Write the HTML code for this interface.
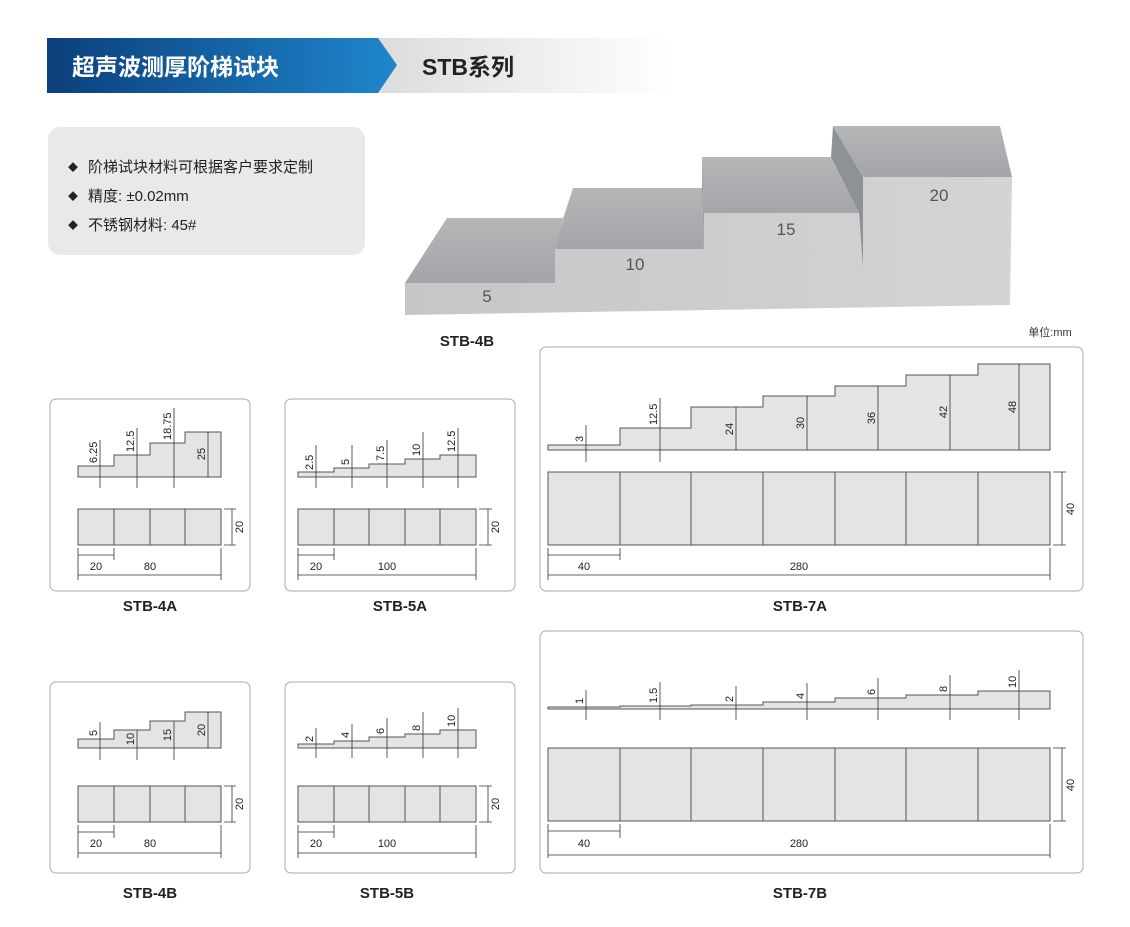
<!DOCTYPE html>
<html><head><meta charset="utf-8"><style>
html,body{margin:0;padding:0;background:#fff}
svg{display:block}
text{font-family:"Liberation Sans","Noto Sans CJK SC",sans-serif}
</style></head><body>
<svg width="1130" height="927" viewBox="0 0 1130 927" xmlns="http://www.w3.org/2000/svg">
<defs>
<linearGradient id="bl" x1="0" x2="1"><stop offset="0" stop-color="#0b3f7c"/><stop offset="1" stop-color="#1f86cc"/></linearGradient>
<linearGradient id="gr" x1="0" x2="1"><stop offset="0" stop-color="#dcdcdc"/><stop offset="1" stop-color="#fff"/></linearGradient>
<linearGradient id="mf" x1="0" x2="1"><stop offset="0" stop-color="#c4c6c8"/><stop offset="1" stop-color="#d2d4d6"/></linearGradient>
<linearGradient id="mt" x1="0" x2="0" y1="0" y2="1"><stop offset="0" stop-color="#b4b6b8"/><stop offset="1" stop-color="#a3a5a8"/></linearGradient>
</defs>
<!-- header -->
<rect x="378" y="38" width="297" height="55" fill="url(#gr)"/>
<polygon points="47,38 378,38 397,65 378,93 47,93" fill="url(#bl)"/>
<text x="72" y="75" font-size="23" font-weight="bold" fill="#fff">超声波测厚阶梯试块</text>
<text x="422" y="75" font-size="23" font-weight="bold" fill="#222">STB系列</text>
<!-- info -->
<rect x="48" y="127" width="317" height="128" rx="12" fill="#e9e9e9"/>
<g font-size="15" fill="#222">
<text x="68" y="171" font-size="10">◆</text><text x="88" y="172">阶梯试块材料可根据客户要求定制</text>
<text x="68" y="200" font-size="10">◆</text><text x="88" y="201">精度: ±0.02mm</text>
<text x="68" y="229" font-size="10">◆</text><text x="88" y="230">不锈钢材料: 45#</text>
</g>
<!-- photo -->
<g stroke="none">
<polygon points="447,218 563,218 555,283 405,283" fill="url(#mt)"/>
<polygon points="563,218 573,188 555,249 555,283" fill="#b9bbbd"/>
<polygon points="573,188 702,188 704,249 555,249" fill="url(#mt)"/>
<polygon points="702,157 831,157 859,213 704,213" fill="url(#mt)"/>
<polygon points="702,157 702,188 704,249 704,213" fill="#9a9c9f"/>
<polygon points="831,157 833,126 863,177 863,270 859,213" fill="#8f9295"/>
<polygon points="833,126 1000,126 1012,177 863,177" fill="url(#mt)"/>
<polygon points="405,283 555,283 555,249 704,249 704,213 859,213 863,270 863,177 1012,177 1010,305 405,315" fill="url(#mf)"/>
</g>
<g font-size="17" fill="#555" text-anchor="middle"><text x="487" y="302">5</text><text x="635" y="270">10</text><text x="786" y="235">15</text><text x="939" y="201">20</text></g>
<text x="467" y="346" font-size="15" font-weight="bold" text-anchor="middle" fill="#222">STB-4B</text>
<text x="1050" y="336" font-size="11" text-anchor="middle" fill="#333">单位:mm</text>
<!-- panels -->
<g fill="#fff" stroke="#aaa" stroke-width="1">
<rect x="50" y="399" width="200" height="192" rx="6"/>
<rect x="285" y="399" width="230" height="192" rx="6"/>
<rect x="540" y="347" width="543" height="244" rx="6"/>
<rect x="50" y="682" width="200" height="191" rx="6"/>
<rect x="285" y="682" width="230" height="191" rx="6"/>
<rect x="540" y="631" width="543" height="242" rx="6"/>
</g>
<g font-size="15" font-weight="bold" text-anchor="middle" fill="#222">
<text x="150" y="611">STB-4A</text><text x="400" y="611">STB-5A</text><text x="800" y="611">STB-7A</text>
<text x="150" y="898">STB-4B</text><text x="387" y="898">STB-5B</text><text x="800" y="898">STB-7B</text>
</g>
<g fill="#e4e4e4" stroke="#555" stroke-width="1">
<path d="M78,477V466H114V455H150V443H185V432H221V477Z"/>
<rect x="78" y="509" width="143" height="36"/>
<path d="M298,477V472H334V468H369V464H405V459H440V455H476V477Z"/>
<rect x="298" y="509" width="178" height="36"/>
<path d="M548,450V445H620V428H691V407H763V396H835V386H906V375H978V364H1050V450Z"/>
<rect x="548" y="472" width="502" height="73"/>
<path d="M78,748V739H114V730H150V721H185V712H221V748Z"/>
<rect x="78" y="786" width="143" height="36"/>
<path d="M298,748V744H334V741H369V737H405V734H440V730H476V748Z"/>
<rect x="298" y="786" width="178" height="36"/>
<path d="M548,709V707H620V706H691V705H763V702H835V698H906V695H978V691H1050V709Z"/>
<rect x="548" y="748" width="502" height="73"/>
</g>
<g stroke="#555" stroke-width="1">
<path d="M114,509V545M150,509V545M185,509V545"/>
<path d="M334,509V545M369,509V545M405,509V545M440,509V545"/>
<path d="M620,472V545M691,472V545M763,472V545M835,472V545M906,472V545M978,472V545"/>
<path d="M114,786V822M150,786V822M185,786V822"/>
<path d="M334,786V822M369,786V822M405,786V822M440,786V822"/>
<path d="M620,748V821M691,748V821M763,748V821M835,748V821M906,748V821M978,748V821"/>
</g>
<g stroke="#333" stroke-width="0.8" fill="none">
<path d="M100,440V488M137,428V488M174,408V488M208,432V477M224,509H236M232,509V545M224,545H236M78,548V580M114,548V560M221,548V580M78,555H114M78,575H221"/>
<path d="M316,445V488M352,445V488M387,440V488M423,432V488M458,428V488M479,509H492M488,509V545M479,545H492M298,548V580M334,548V560M476,548V580M298,555H334M298,575H476"/>
<path d="M586,425V462M660,398V462M736,407V450M807,396V450M878,386V450M950,375V450M1019,364V450M1053,472H1066M1062,472V545M1053,545H1066M548,548V580M620,548V560M1050,548V580M548,555H620M548,575H1050"/>
<path d="M100,722V760M137,730V760M174,721V760M208,712V748M224,786H236M232,786V822M224,822H236M78,825V858M114,825V838M221,825V858M78,832H114M78,853H221"/>
<path d="M316,728V758M352,724V758M387,718V758M423,712V758M458,708V758M479,786H492M488,786V822M479,822H492M298,825V858M334,825V838M476,825V858M298,832H334M298,853H476"/>
<path d="M586,690V720M660,682V720M736,686V720M807,683V720M878,678V720M950,675V720M1019,670V720M1053,748H1066M1062,748V821M1053,821H1066M548,824V858M620,824V838M1050,824V858M548,831H620M548,855H1050"/>
</g>
<g font-size="11" fill="#222">
<text transform="translate(97,463) rotate(-90)">6.25</text>
<text transform="translate(134,452) rotate(-90)">12.5</text>
<text transform="translate(171,440) rotate(-90)">18.75</text>
<text transform="translate(205,454) rotate(-90)" text-anchor="middle">25</text>
<text transform="translate(243,527) rotate(-90)" text-anchor="middle">20</text>
<text x="96" y="570" text-anchor="middle">20</text><text x="150" y="570" text-anchor="middle">80</text>
<text transform="translate(313,470) rotate(-90)">2.5</text>
<text transform="translate(349,465) rotate(-90)">5</text>
<text transform="translate(384,461) rotate(-90)">7.5</text>
<text transform="translate(420,456) rotate(-90)">10</text>
<text transform="translate(455,452) rotate(-90)">12.5</text>
<text transform="translate(499,527) rotate(-90)" text-anchor="middle">20</text>
<text x="316" y="570" text-anchor="middle">20</text><text x="387" y="570" text-anchor="middle">100</text>
<text transform="translate(583,442) rotate(-90)">3</text>
<text transform="translate(657,425) rotate(-90)">12.5</text>
<text transform="translate(733,429) rotate(-90)" text-anchor="middle">24</text>
<text transform="translate(804,423) rotate(-90)" text-anchor="middle">30</text>
<text transform="translate(875,418) rotate(-90)" text-anchor="middle">36</text>
<text transform="translate(947,412) rotate(-90)" text-anchor="middle">42</text>
<text transform="translate(1016,407) rotate(-90)" text-anchor="middle">48</text>
<text transform="translate(1074,509) rotate(-90)" text-anchor="middle">40</text>
<text x="584" y="570" text-anchor="middle">40</text><text x="799" y="570" text-anchor="middle">280</text>
<text transform="translate(97,736) rotate(-90)">5</text>
<text transform="translate(134,739) rotate(-90)" text-anchor="middle">10</text>
<text transform="translate(171,735) rotate(-90)" text-anchor="middle">15</text>
<text transform="translate(205,730) rotate(-90)" text-anchor="middle">20</text>
<text transform="translate(243,804) rotate(-90)" text-anchor="middle">20</text>
<text x="96" y="847" text-anchor="middle">20</text><text x="150" y="847" text-anchor="middle">80</text>
<text transform="translate(313,742) rotate(-90)">2</text>
<text transform="translate(349,738) rotate(-90)">4</text>
<text transform="translate(384,734) rotate(-90)">6</text>
<text transform="translate(420,731) rotate(-90)">8</text>
<text transform="translate(455,727) rotate(-90)">10</text>
<text transform="translate(499,804) rotate(-90)" text-anchor="middle">20</text>
<text x="316" y="847" text-anchor="middle">20</text><text x="387" y="847" text-anchor="middle">100</text>
<text transform="translate(583,704) rotate(-90)">1</text>
<text transform="translate(657,703) rotate(-90)">1.5</text>
<text transform="translate(733,702) rotate(-90)">2</text>
<text transform="translate(804,699) rotate(-90)">4</text>
<text transform="translate(875,695) rotate(-90)">6</text>
<text transform="translate(947,692) rotate(-90)">8</text>
<text transform="translate(1016,688) rotate(-90)">10</text>
<text transform="translate(1074,785) rotate(-90)" text-anchor="middle">40</text>
<text x="584" y="847" text-anchor="middle">40</text><text x="799" y="847" text-anchor="middle">280</text>
</g>
</svg>
</body></html>
